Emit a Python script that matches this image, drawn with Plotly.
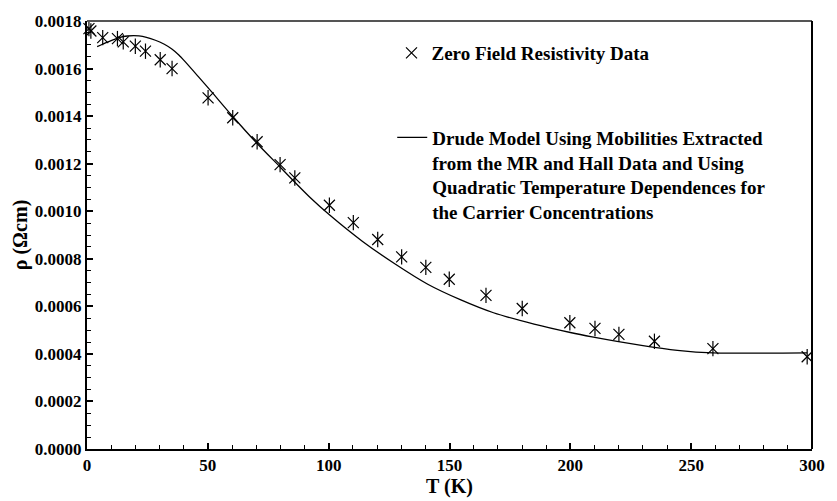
import plotly.graph_objects as go

# Zero-field resistivity data (T in K, rho in Ohm cm)
T_data = [0.8, 1.6, 6.5, 12.6, 15.0, 20.0, 24.2, 30.3, 35.2, 50.1, 60.3, 70.4, 79.9, 86.0,
          100.3, 110.2, 120.3, 130.2, 140.2, 149.9, 165.1, 180.1, 199.8, 210.2, 220.1,
          234.8, 259.0, 298.0]
rho_data = [0.001768, 0.001758, 0.001730, 0.001726, 0.001712, 0.001694, 0.001673, 0.001637,
            0.001600, 0.001477, 0.001393, 0.001292, 0.001196, 0.001140, 0.001025, 0.000952,
            0.000881, 0.000808, 0.000764, 0.000714, 0.000646, 0.000591, 0.000531, 0.000507,
            0.000482, 0.000453, 0.000422, 0.000388]

# Drude model curve
T_model = [4.2, 8.5, 13.3, 16.7, 21.5, 28.3, 32.0, 35.1, 38.0, 40.5, 45.9, 51.4, 59.5, 70.4,
           79.9, 86.0, 92.1, 100.3, 113.9, 127.5, 141.0, 154.7, 168.2, 185.0, 200.0, 209.0,
           229.4, 244.3, 259.0, 298.0]
rho_model = [0.001692, 0.001711, 0.001730, 0.001737, 0.001737, 0.001719, 0.001702, 0.001682,
             0.001657, 0.001630, 0.001568, 0.001504, 0.001408, 0.001285, 0.001186, 0.001122,
             0.001060, 0.000985, 0.000874, 0.000778, 0.000693, 0.000627, 0.000573, 0.000525,
             0.000490, 0.000472, 0.000436, 0.000415, 0.000404, 0.000404]

FONT = "Liberation Serif, Times New Roman, serif"
label_data = "Zero Field Resistivity Data"
label_model = ("Drude Model Using Mobilities Extracted<br>from the MR and Hall Data and Using"
               "<br>Quadratic Temperature Dependences for<br>the Carrier Concentrations")

fig = go.Figure()
fig.add_trace(go.Scatter(
    x=T_model, y=rho_model, mode="lines", name=label_model,
    line=dict(color="black", width=1.3, shape="spline", smoothing=0.6),
    legend="legend2", cliponaxis=False))
fig.add_trace(go.Scatter(
    x=T_data, y=rho_data, mode="markers", name=label_data,
    marker=dict(symbol="x-thin-open", size=11, color="black", line=dict(width=1.2, color="black")),
    legend="legend", cliponaxis=False))
fig.add_trace(go.Scatter(
    x=T_data, y=rho_data, mode="markers", showlegend=False,
    marker=dict(symbol="line-ns-open", size=11, color="black", line=dict(width=1.2, color="black")),
    cliponaxis=False))

tick_font = dict(family=FONT, size=17, color="black", weight="bold")
title_font = dict(family=FONT, size=20, color="black", weight="bold")
legend_font = dict(family=FONT, size=19, color="black", weight="bold")

fig.update_layout(
    width=837, height=501,
    margin=dict(l=87, r=14, t=18, b=45),
    paper_bgcolor="white", plot_bgcolor="white",
    font=dict(family=FONT, size=16, color="black"),
    xaxis=dict(
        range=[0, 300], tick0=0, dtick=50, ticks="inside", ticklen=6, tickwidth=1.5,
        tickcolor="black", showline=True, linecolor="black", linewidth=2, mirror=False,
        showgrid=False, zeroline=False, tickfont=tick_font,
        minor=dict(dtick=10, ticks="inside", ticklen=4, tickwidth=1.2, tickcolor="black", showgrid=False),
        title=dict(text="T (K)", font=title_font, standoff=0)),
    yaxis=dict(
        range=[0, 0.0018], tick0=0, dtick=0.0002, tickformat=".4f", ticks="inside", ticklen=6,
        tickwidth=1.5, tickcolor="black", showline=True, linecolor="black", linewidth=2,
        mirror=False, showgrid=False, zeroline=False, tickfont=tick_font,
        minor=dict(dtick=0.00005, ticks="inside", ticklen=4, tickwidth=1.2, tickcolor="black", showgrid=False),
        title=dict(text="ρ (Ωcm)", font=title_font, standoff=2)),
    legend=dict(x=0.42, y=0.925, xanchor="left", yanchor="middle", bgcolor="rgba(0,0,0,0)",
                font=legend_font),
    legend2=dict(x=0.421, y=0.772, xanchor="left", yanchor="top", valign="top",
                 bgcolor="rgba(0,0,0,0)", font=legend_font),
    shapes=[
        dict(type="line", xref="paper", yref="paper", x0=0, x1=1, y0=1, y1=1,
             line=dict(color="#555555", width=2)),
        dict(type="line", xref="paper", yref="paper", x0=1, x1=1, y0=0, y1=1,
             line=dict(color="black", width=2)),
    ],
)

fig.write_html("out.html")
